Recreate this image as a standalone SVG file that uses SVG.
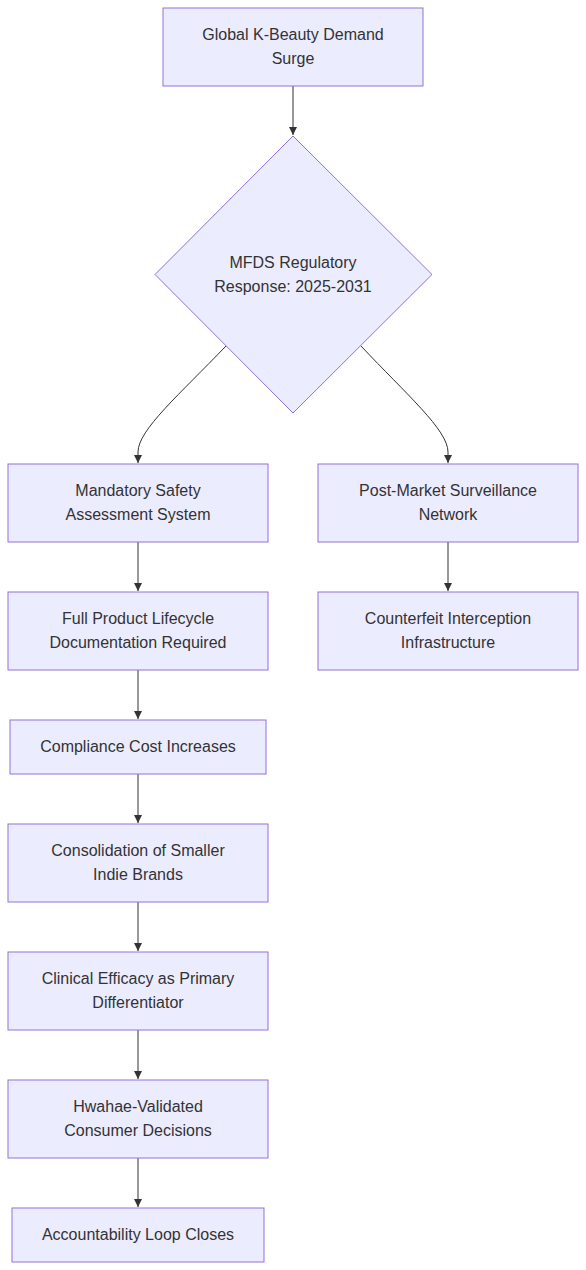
<svg xmlns="http://www.w3.org/2000/svg" width="586" height="1270" viewBox="0 0 586 1270">
<style>
.n rect, .n polygon { fill: #ECECFF; stroke: #9370DB; stroke-width: 1; }
.n text { font-family: "Liberation Sans", Arial, sans-serif; font-size: 16px; fill: #333; text-anchor: middle; dominant-baseline: central; }
.e path { fill: none; stroke: #333; stroke-width: 1; }
</style>
<defs>
<marker id="arr" viewBox="0 0 10 10" refX="10" refY="5" markerWidth="8" markerHeight="8" markerUnits="userSpaceOnUse" orient="auto">
<path d="M0,0 L10,5 L0,10 z" fill="#333"/>
</marker>
</defs>
<rect width="586" height="1270" fill="#fff"/>
<g class="e">
<path d="M293,86 L293,135" marker-end="url(#arr)"/>
<path d="M226,346 C180,394 138,430 138,452 L138,463" marker-end="url(#arr)"/>
<path d="M361,346 C406,394 448,430 448,452 L448,463" marker-end="url(#arr)"/>
<path d="M138,542 L138,591" marker-end="url(#arr)"/>
<path d="M448,542 L448,591" marker-end="url(#arr)"/>
<path d="M138,670 L138,719" marker-end="url(#arr)"/>
<path d="M138,774 L138,823" marker-end="url(#arr)"/>
<path d="M138,902 L138,951" marker-end="url(#arr)"/>
<path d="M138,1030 L138,1079" marker-end="url(#arr)"/>
<path d="M138,1158 L138,1207" marker-end="url(#arr)"/>
</g>
<g id="n1" class="n"><rect x="163" y="8" width="260" height="78"/><text x="293" y="34">Global K-Beauty Demand</text><text x="293" y="58">Surge</text></g>
<g id="n2" class="n"><polygon points="293,136 432,274.5 293,413 155,274.5"/><text x="293" y="262">MFDS Regulatory</text><text x="293" y="286">Response: 2025-2031</text></g>
<g id="n3" class="n"><rect x="8" y="464" width="260" height="78"/><text x="138" y="490">Mandatory Safety</text><text x="138" y="514">Assessment System</text></g>
<g id="n4" class="n"><rect x="318" y="464" width="260" height="78"/><text x="448" y="490">Post-Market Surveillance</text><text x="448" y="514">Network</text></g>
<g id="n5" class="n"><rect x="8" y="592" width="260" height="78"/><text x="138" y="618">Full Product Lifecycle</text><text x="138" y="642">Documentation Required</text></g>
<g id="n6" class="n"><rect x="318" y="592" width="260" height="78"/><text x="448" y="618">Counterfeit Interception</text><text x="448" y="642">Infrastructure</text></g>
<g id="n7" class="n"><rect x="10" y="720" width="256" height="54"/><text x="138" y="746">Compliance Cost Increases</text></g>
<g id="n8" class="n"><rect x="8" y="824" width="260" height="78"/><text x="138" y="850">Consolidation of Smaller</text><text x="138" y="874">Indie Brands</text></g>
<g id="n9" class="n"><rect x="8" y="952" width="260" height="78"/><text x="138" y="978">Clinical Efficacy as Primary</text><text x="138" y="1002">Differentiator</text></g>
<g id="n10" class="n"><rect x="8" y="1080" width="260" height="78"/><text x="138" y="1106">Hwahae-Validated</text><text x="138" y="1130">Consumer Decisions</text></g>
<g id="n11" class="n"><rect x="12" y="1208" width="252" height="54"/><text x="138" y="1234">Accountability Loop Closes</text></g>
</svg>
